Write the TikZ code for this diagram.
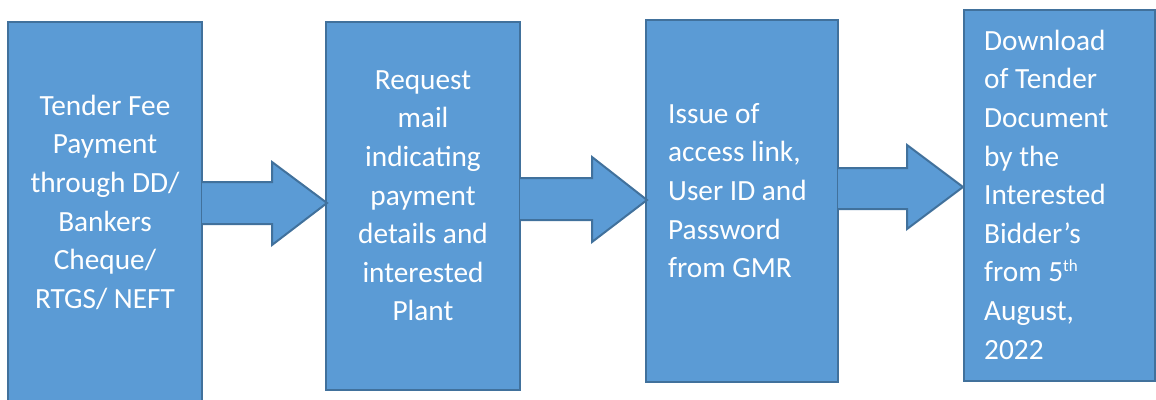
\documentclass[tikz,border=0pt]{standalone}
\usepackage{fontspec}
\setmainfont{Carlito}
\definecolor{boxfill}{HTML}{5B9BD5}
\definecolor{boxline}{HTML}{41719C}
\begin{document}
\begin{tikzpicture}[x=1pt,y=-1pt,
  bluebox/.style={fill=boxfill,draw=boxline,line width=2pt,line join=miter},
  txt/.style={text=white,inner sep=0pt,font=\fontsize{29.3}{38.6}\selectfont}]
\useasboundingbox (0,0) rectangle (1156,399);
\clip (0,0) rectangle (1156,399);
% boxes
\draw[bluebox] (8,22) rectangle (202,410);
\draw[bluebox] (326,22) rectangle (520,390);
\draw[bluebox] (646,20) rectangle (838,382);
\draw[bluebox] (964,10) rectangle (1155,381);
% arrows
\draw[bluebox] (202,182) -- (272,182) -- (272,162) -- (327,203) -- (272,245) -- (272,224) -- (202,224);
\draw[bluebox] (520,178) -- (592,178) -- (592,157) -- (647,200) -- (592,242) -- (592,220) -- (520,220);
\draw[bluebox] (838,168) -- (907,168) -- (907,145) -- (963,187) -- (907,229) -- (907,209) -- (838,209);
% texts
\node[txt,align=center,anchor=north] (t1) at (105,88) {\strut Tender Fee\\Payment\\through DD/\\Bankers\\Cheque/\\RTGS/ NEFT};
\node[txt,align=center,anchor=north] (t2) at (423,62) {\strut Request\\mail\\indicating\\payment\\details and\\interested\\Plant};
\node[txt,align=left,anchor=north west] (t3) at (668,96) {\strut Issue of\\access link,\\User ID and\\Password\\from GMR};
\node[txt,align=left,anchor=north west] (t4) at (984,23) {\strut Download\\of Tender\\Document\\by the\\Interested\\Bidder’s\\from 5{\fontsize{17}{17}\selectfont\raisebox{10pt}{th}}\\August,\\2022};
\end{tikzpicture}
\end{document}
